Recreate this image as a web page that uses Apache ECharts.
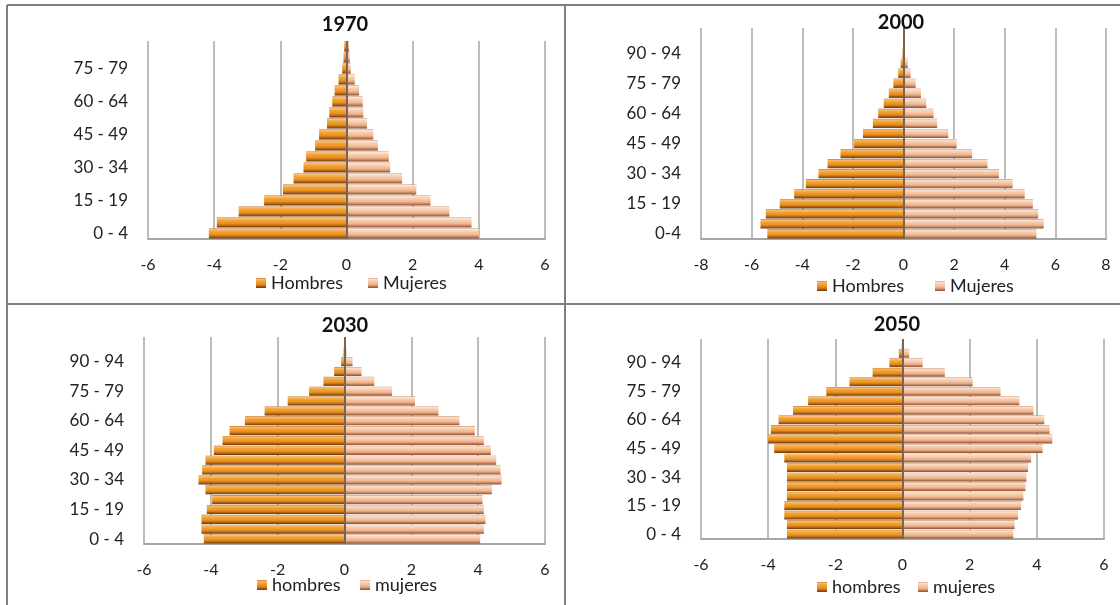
<!DOCTYPE html>
<html><head><meta charset="utf-8">
<script src="https://cdn.jsdelivr.net/npm/echarts@6/dist/echarts.min.js"></script>
<style>html,body{margin:0;padding:0;background:#fff}#c{width:1120px;height:605px}</style>
</head><body><div id="c"></div>
<script>
// ---- data ----
const ages18 = ["0 - 4","5 - 9","10 - 14","15 - 19","20 - 24","25 - 29","30 - 34","35 - 39","40 - 44","45 - 49","50 - 54","55 - 59","60 - 64","65 - 69","70 - 74","75 - 79","80 - 84","85 +"];
const ages21a = ["0-4","5 - 9","10 - 14","15 - 19","20 - 24","25 - 29","30 - 34","35 - 39","40 - 44","45 - 49","50 - 54","55 - 59","60 - 64","65 - 69","70 - 74","75 - 79","80 - 84","85 - 89","90 - 94","95 - 99","100 +"];
const ages21 = ["0 - 4","5 - 9","10 - 14","15 - 19","20 - 24","25 - 29","30 - 34","35 - 39","40 - 44","45 - 49","50 - 54","55 - 59","60 - 64","65 - 69","70 - 74","75 - 79","80 - 84","85 - 89","90 - 94","95 - 99","100 +"];

const hombres1970 = [-4.16,-3.92,-3.26,-2.49,-1.92,-1.6,-1.3,-1.22,-0.95,-0.83,-0.59,-0.52,-0.43,-0.36,-0.24,-0.13,-0.09,-0.07];
const mujeres1970 = [4.0,3.78,3.11,2.54,2.11,1.68,1.32,1.28,0.95,0.81,0.62,0.51,0.49,0.38,0.25,0.13,0.1,0.08];

const hombres2000 = [-5.38,-5.65,-5.44,-4.89,-4.32,-3.86,-3.36,-3.0,-2.49,-1.95,-1.6,-1.21,-1.0,-0.78,-0.58,-0.4,-0.21,-0.11,-0.04,-0.02,-0.01];
const mujeres2000 = [5.25,5.54,5.32,5.11,4.79,4.31,3.77,3.32,2.71,2.1,1.77,1.33,1.19,0.9,0.69,0.48,0.28,0.17,0.06,0.03,0.01];

const hombres2030 = [-4.21,-4.28,-4.28,-4.12,-3.96,-4.16,-4.37,-4.26,-4.16,-3.91,-3.65,-3.44,-2.98,-2.39,-1.7,-1.06,-0.63,-0.31,-0.1,-0.03,-0.01];
const mujeres2030 = [4.06,4.17,4.22,4.17,4.13,4.41,4.7,4.67,4.54,4.38,4.17,3.9,3.44,2.81,2.11,1.42,0.89,0.51,0.24,0.06,0.02];

const hombres2050 = [-3.44,-3.44,-3.52,-3.52,-3.44,-3.44,-3.44,-3.44,-3.52,-3.82,-4.0,-3.92,-3.69,-3.26,-2.81,-2.27,-1.58,-0.89,-0.39,-0.11,-0.02];
const mujeres2050 = [3.3,3.34,3.44,3.53,3.6,3.66,3.69,3.74,3.83,4.17,4.46,4.38,4.22,3.9,3.48,2.92,2.09,1.26,0.6,0.2,0.03];

const years = ["1970","2000","2030","2050"];
const xRanges = [[-6,6],[-8,8],[-6,6],[-6,6]];
const legendNames = [["Hombres","Mujeres"],["Hombres","Mujeres"],["hombres","mujeres"],["hombres","mujeres"]];

// ---- layout / style ----
const FONT = 'Lato, "Open Sans", sans-serif';
const grids = [
  {left:148, right:575, top:41, bottom:366},
  {left:701, right:14, top:28, bottom:366},
  {left:144, right:575, top:337, bottom:61},
  {left:701, right:16, top:339, bottom:66}
];
const titlePos = [[345,25],[901,23],[345,326],[897,325]];
const legendPos = [[256,368,274],[817,935,277],[257,360,576],[817,918,578]];

const maleGrad = {type:'linear',x:0,y:0,x2:0,y2:1,colorStops:[
  {offset:0,color:'#b86a1a'},{offset:0.1,color:'#f9c070'},{offset:0.3,color:'#f3a43a'},
  {offset:0.6,color:'#e8901e'},{offset:0.75,color:'#c8731a'},{offset:0.9,color:'#8e4d12'},{offset:1,color:'#6e3a0e'}]};
const femGrad = {type:'linear',x:0,y:0,x2:0,y2:1,colorStops:[
  {offset:0,color:'#c68a68'},{offset:0.1,color:'#fde2cf'},{offset:0.3,color:'#f7cfb2'},
  {offset:0.6,color:'#eeb893'},{offset:0.75,color:'#d99a74'},{offset:0.9,color:'#a86a48'},{offset:1,color:'#8a5236'}]};

const cats = [ages18, ages21a, ages21, ages21];
const males = [hombres1970, hombres2000, hombres2030, hombres2050];
const females = [mujeres1970, mujeres2000, mujeres2030, mujeres2050];

const option = {
  animation:false,
  backgroundColor:'#fff',
  textStyle:{fontFamily:FONT},
  grid: grids,
  xAxis: xRanges.map((r,i)=>({
    type:'value', gridIndex:i, min:r[0], max:r[1], interval:2,
    axisLine:{show:true, lineStyle:{color:'#a6a6a6', width:2}},
    axisTick:{show:false},
    splitLine:{show:true, lineStyle:{color:'#a6a6a6', width:1.5}},
    axisLabel:{fontSize:16, color:'#222', margin:18, fontFamily:FONT}
  })),
  yAxis: cats.map((c,i)=>({
    type:'category', gridIndex:i, data:c,
    axisLine:{show:false}, axisTick:{show:false}, splitLine:{show:false},
    axisLabel:{interval:2, fontSize:17, color:'#222', margin:20, fontFamily:FONT}
  })),
  legend: [],
  series: [],
  graphic: []
};

years.forEach((y,i)=>{
  option.series.push({
    name:legendNames[i][0], type:'bar', xAxisIndex:i, yAxisIndex:i, stack:'p'+i,
    data:males[i], barCategoryGap:'8%', itemStyle:{color:maleGrad},
    markLine:{silent:true, symbol:['none','none'], label:{show:false},
      lineStyle:{color:'#7d6354', width:2, type:'solid'}, data:[{xAxis:0}]}
  });
  option.series.push({
    name:legendNames[i][1], type:'bar', xAxisIndex:i, yAxisIndex:i, stack:'p'+i,
    data:females[i], barCategoryGap:'8%', itemStyle:{color:femGrad}
  });
  const lp = legendPos[i];
  [0,1].forEach(k=>{
    option.legend.push({
      data:[legendNames[i][k]], left:lp[k], top:lp[2], padding:0,
      itemWidth:10, itemHeight:10, itemGap:5, icon:'rect',
      textStyle:{fontSize:18, color:'#222', fontFamily:FONT}
    });
  });
  option.graphic.push({type:'text', x:titlePos[i][0], y:titlePos[i][1], z:100,
    style:{text:y, font:'bold 20px ' + FONT, fill:'#111', textAlign:'center', textVerticalAlign:'middle'}});
});

// panel frame lines
const frame = [[7,5,7,605],[7,5,1120,5],[565,5,565,605],[7,304,1120,304]];
frame.forEach(f=>option.graphic.push({type:'line', shape:{x1:f[0],y1:f[1],x2:f[2],y2:f[3]}, style:{stroke:'#7f7f7f', lineWidth:2}, z:-1}));

echarts.init(document.getElementById('c')).setOption(option);
</script></body></html>
